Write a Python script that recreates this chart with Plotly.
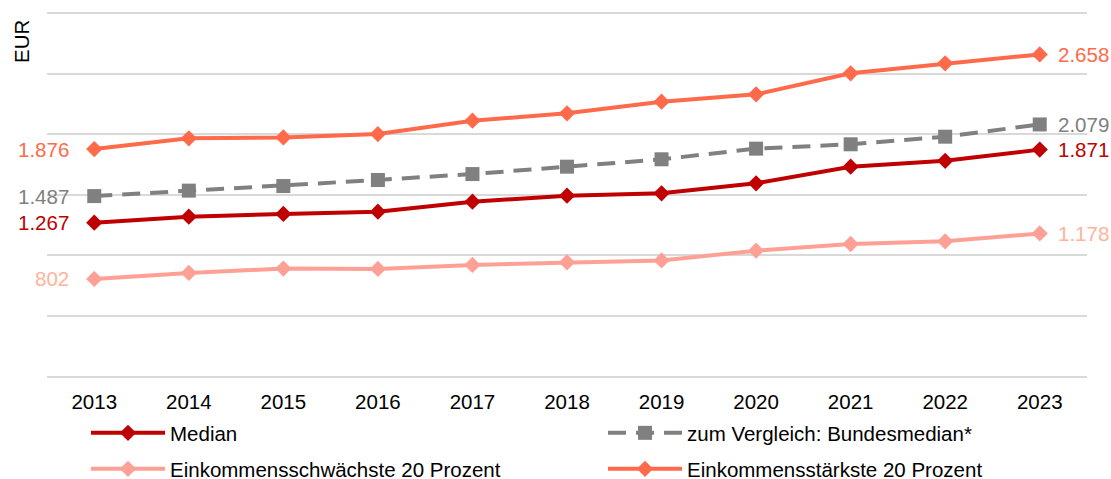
import plotly.graph_objects as go

years = ["2013", "2014", "2015", "2016", "2017", "2018", "2019", "2020", "2021", "2022", "2023"]
median = [1267, 1317, 1339, 1358, 1441, 1490, 1510, 1593, 1730, 1779, 1871]
bundesmedian = [1487, 1532, 1570, 1620, 1669, 1730, 1791, 1879, 1915, 1978, 2079]
schwaechste = [802, 852, 888, 885, 918, 940, 955, 1036, 1091, 1113, 1178]
staerkste = [1876, 1964, 1972, 2000, 2110, 2171, 2267, 2328, 2502, 2584, 2658]

names = ["Median", "zum Vergleich: Bundesmedian*",
         "Einkommensschwächste 20 Prozent", "Einkommensstärkste 20 Prozent"]

FONT = "Liberation Sans, Arial, sans-serif"
FS = 20.5
W, H = 1111, 479
ML, MR, MT, MB = 47, 24, 10, 103
PW, PH = W - ML - MR, H - MT - MB

series = [
    (names[0], median, "#C00000", "#C00000", "diamond", 12.5, "solid", "legend"),
    (names[1], bundesmedian, "#808080", "#808080", "square", 14, "18px,10px", "legend2"),
    (names[2], schwaechste, "#FFA096", "#FFB39C", "diamond", 12.5, "solid", "legend3"),
    (names[3], staerkste, "#FF6A4A", "#FF6A4A", "diamond", 12.5, "solid", "legend4"),
]

def fmt(v):
    return f"{v:,}".replace(",", ".")

fig = go.Figure()
annotations = []
last = len(years) - 1
for name, vals, col, tcol, sym, msize, dash, lg in series:
    fig.add_trace(go.Scatter(
        x=years, y=vals, name=name, mode="lines+markers",
        line=dict(color=col, width=4, dash=dash),
        marker=dict(symbol=sym, size=msize, color=col),
        legend=lg,
    ))
    annotations.append(dict(x=0, y=vals[0], xref="x", yref="y",
                            text=fmt(vals[0]), showarrow=False,
                            xanchor="right", yanchor="middle", xshift=-23,
                            font=dict(family=FONT, size=FS, color=tcol)))
    annotations.append(dict(x=last, y=vals[-1], xref="x", yref="y",
                            text=fmt(vals[-1]), showarrow=False,
                            xanchor="left", yanchor="middle", xshift=16,
                            font=dict(family=FONT, size=FS, color=tcol)))

annotations.append(dict(x=(21 - ML) / PW, y=(H - MB - 42) / PH,
                        xref="paper", yref="paper",
                        text="EUR", textangle=-90, showarrow=False,
                        xanchor="center", yanchor="middle",
                        font=dict(family=FONT, size=FS, color="#000000")))

def legend_cfg(px, py):
    return dict(xref="container", yref="container", x=px / W, y=1 - py / H,
                xanchor="left", yanchor="middle", orientation="h",
                itemwidth=74, bgcolor="rgba(0,0,0,0)", borderwidth=0,
                font=dict(family=FONT, size=FS, color="#000000"))

fig.update_layout(
    width=W, height=H,
    margin=dict(l=ML, r=MR, t=MT, b=MB, autoexpand=False),
    paper_bgcolor="white", plot_bgcolor="white",
    font=dict(family=FONT, size=FS, color="#000000"),
    showlegend=True,
    legend=legend_cfg(86, 433),
    legend2=legend_cfg(603, 433),
    legend3=legend_cfg(86, 469),
    legend4=legend_cfg(603, 469),
    annotations=annotations,
    xaxis=dict(type="category", range=[-0.5, 10.5], showgrid=False,
               showline=True, linecolor="#D9D9D9", linewidth=1.5,
               ticks="", ticklabelstandoff=7,
               tickfont=dict(family=FONT, size=FS, color="#000000")),
    yaxis=dict(range=[0, 3025], dtick=500, showgrid=True, gridcolor="#D9D9D9",
               gridwidth=1.5, zeroline=False, showticklabels=False, ticks=""),
)

fig.write_html("out.html", config={"displayModeBar": False},
               post_script="document.body.style.margin='0';document.body.style.overflow='hidden';")
